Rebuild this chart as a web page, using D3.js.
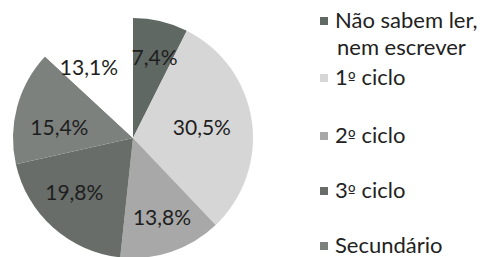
<!DOCTYPE html>
<html>
<head>
<meta charset="utf-8">
<script src="https://cdn.jsdelivr.net/npm/d3@7"></script>
<style>
  body { margin: 0; background: #fff; }
  svg { display: block; }
</style>
</head>
<body>
<div id="chart"></div>
<script>
// slices clockwise from 12 o'clock
const categories = ["Não sabem ler, nem escrever", "1º ciclo", "2º ciclo", "3º ciclo", "Secundário", ""];
const values = [7.4, 30.5, 13.8, 19.8, 15.4, 13.1];
const labels = ["7,4%", "30,5%", "13,8%", "19,8%", "15,4%", "13,1%"];
const colors = ["#5f6862", "#d6d6d6", "#a7a8a7", "#686d69", "#7d817e", "#ffffff"];

// legend entries (last slice has no legend entry in the original)
const legendLines = [["Não sabem ler,", "nem escrever"], ["1º ciclo"], ["2º ciclo"], ["3º ciclo"], ["Secundário"]];

const width = 494, height = 257;
const cx = 133, cy = 138, r = 120;
const font = "Lato, 'Open Sans', sans-serif";

// label placement: fraction of radius, and a small turn (radians) off the slice middle
const labelRadius = [0.69, 0.58, 0.71, 0.67, 0.62, 0.69];
const labelTurn = [0.03, 0, -0.02, 0.09, -0.12, -0.15];

const svg = d3.select("#chart").append("svg")
  .attr("width", width)
  .attr("height", height);

const pie = d3.pie().sort(null).value(d => d);
const arcs = pie(values);
const arc = d3.arc().innerRadius(0).outerRadius(r);

const g = svg.append("g").attr("transform", `translate(${cx},${cy})`);

g.selectAll("path")
  .data(arcs)
  .enter()
  .append("path")
  .attr("d", arc)
  .attr("fill", (d, i) => colors[i]);

// percentage labels
g.selectAll("text")
  .data(arcs)
  .enter()
  .append("text")
  .attr("transform", (d, i) => {
    const lr = r * labelRadius[i];
    const a = (d.startAngle + d.endAngle) / 2 + labelTurn[i];
    return `translate(${lr * Math.sin(a)},${-lr * Math.cos(a)})`;
  })
  .attr("text-anchor", "middle")
  .attr("dy", "0.35em")
  .style("font-family", font)
  .style("font-size", "21px")
  .attr("fill", "#1e1e1e")
  .text((d, i) => labels[i]);

// legend
const baselines = [28, 85, 143, 198, 253];
const legend = svg.append("g").attr("transform", "translate(320,0)");

function addText(sel, t) {
  // the ordinal sign is drawn with a font whose º is underlined
  const parts = t.split("º");
  parts.forEach((p, k) => {
    sel.append("tspan").text(p);
    if (k < parts.length - 1) {
      sel.append("tspan")
        .style("font-family", "'DejaVu Sans', sans-serif")
        .style("font-size", "17px")
        .text("º");
    }
  });
}

legendLines.forEach((lines, i) => {
  const y = baselines[i];
  legend.append("rect")
    .attr("x", 0)
    .attr("y", y - 11)
    .attr("width", 8)
    .attr("height", 8)
    .attr("fill", colors[i]);
  lines.forEach((t, j) => {
    const txt = legend.append("text")
      .attr("x", j === 0 ? 15 : 17)
      .attr("y", y + j * 27)
      .style("font-family", font)
      .style("font-size", "22px")
      .attr("fill", "#222");
    addText(txt, t);
  });
});
</script>
</body>
</html>
